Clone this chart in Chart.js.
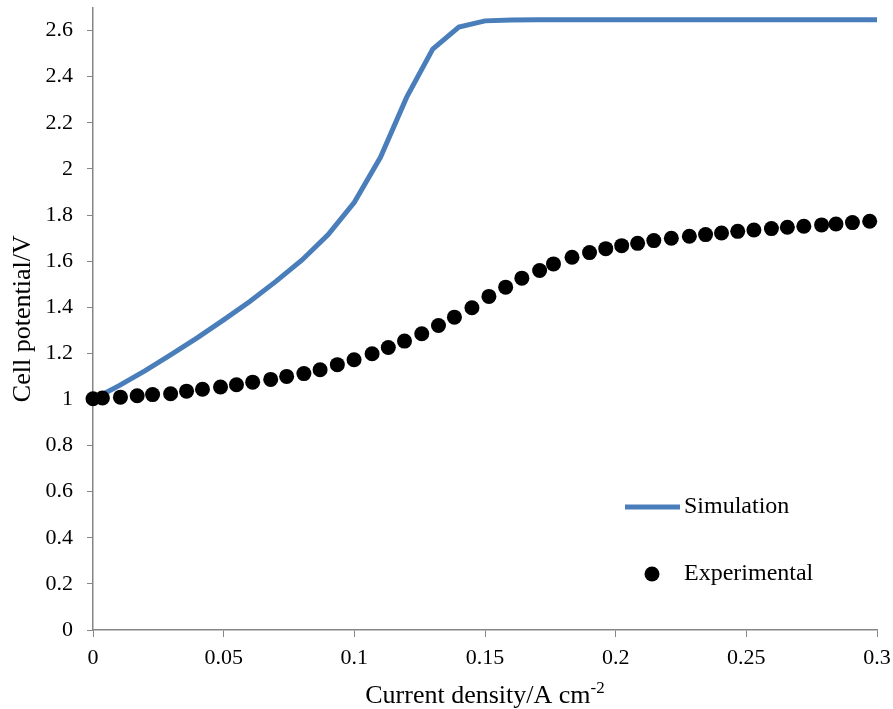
<!DOCTYPE html>
<html>
<head>
<meta charset="utf-8">
<script src="https://cdn.jsdelivr.net/npm/chart.js@4/dist/chart.umd.min.js"></script>
<style>
  html, body { margin: 0; padding: 0; background: #fff; }
  #wrap { width: 893px; height: 709px; }
</style>
</head>
<body>
<div id="wrap"><canvas id="grafico" width="893" height="709"></canvas></div>
<script>
// ---------- dados ----------
const simX = [0, 0.01, 0.02, 0.03, 0.04, 0.05, 0.06, 0.07, 0.08, 0.09, 0.1, 0.11, 0.12, 0.13, 0.14, 0.15, 0.16, 0.17, 0.18, 0.19, 0.2, 0.21, 0.22, 0.23, 0.24, 0.25, 0.26, 0.27, 0.28, 0.29, 0.3];
const simY = [1.0, 1.06, 1.125, 1.195, 1.268, 1.345, 1.425, 1.512, 1.605, 1.715, 1.855, 2.05, 2.31, 2.52, 2.615, 2.642, 2.646, 2.647, 2.647, 2.647, 2.647, 2.647, 2.647, 2.647, 2.647, 2.647, 2.647, 2.647, 2.647, 2.647, 2.647];

const expX = [0, 0.0036, 0.0105, 0.0169, 0.0228, 0.0297, 0.0358, 0.0419, 0.0488, 0.0549, 0.0611, 0.068, 0.0741, 0.0807, 0.0869, 0.0935, 0.0999, 0.1068, 0.113, 0.1192, 0.1258, 0.1322, 0.1383, 0.145, 0.1515, 0.1579, 0.1641, 0.1709, 0.1762, 0.1833, 0.19, 0.1962, 0.2023, 0.2084, 0.2146, 0.2213, 0.2282, 0.2344, 0.2405, 0.2467, 0.2529, 0.2596, 0.2657, 0.272, 0.2788, 0.2843, 0.2906, 0.2972];
const expY = [1.003, 1.006, 1.01, 1.016, 1.021, 1.025, 1.036, 1.044, 1.054, 1.064, 1.075, 1.087, 1.1, 1.112, 1.129, 1.151, 1.172, 1.198, 1.225, 1.253, 1.285, 1.321, 1.357, 1.398, 1.447, 1.487, 1.526, 1.559, 1.588, 1.617, 1.637, 1.654, 1.667, 1.677, 1.689, 1.699, 1.708, 1.715, 1.722, 1.729, 1.735, 1.741, 1.747, 1.751, 1.757, 1.761, 1.767, 1.773];

const xTicks = [0, 0.05, 0.1, 0.15, 0.2, 0.25, 0.3];
const yTicks = [0, 0.2, 0.4, 0.6, 0.8, 1, 1.2, 1.4, 1.6, 1.8, 2, 2.2, 2.4, 2.6];

const serie1 = "Simulation";
const serie2 = "Experimental";
const tituloX = "Current density/A cm";
const tituloXSup = "-2";
const tituloY = "Cell potential/V";

const fonte = "'Liberation Serif', 'Times New Roman', serif";
const azul = "#4a7ebb";
const cinza = "#868686";

// legenda e titulo do eixo x desenhados a mao (precisa do sobrescrito)
const extras = {
  id: "extras",
  afterDraw(chart) {
    const ctx = chart.ctx;
    const area = chart.chartArea;
    ctx.save();
    ctx.fillStyle = "#000";
    ctx.textBaseline = "alphabetic";

    // titulo do eixo x
    ctx.font = "26px " + fonte;
    const w1 = ctx.measureText(tituloX).width;
    ctx.font = "17px " + fonte;
    const w2 = ctx.measureText(tituloXSup).width;
    const x0 = (area.left + area.right) / 2 - (w1 + w2) / 2;
    ctx.font = "26px " + fonte;
    ctx.fillText(tituloX, x0, 703);
    ctx.font = "17px " + fonte;
    ctx.fillText(tituloXSup, x0 + w1, 693);

    // legenda
    ctx.strokeStyle = azul;
    ctx.lineWidth = 5;
    ctx.beginPath();
    ctx.moveTo(625, 507);
    ctx.lineTo(680, 507);
    ctx.stroke();
    ctx.beginPath();
    ctx.arc(652, 574, 7.5, 0, Math.PI * 2);
    ctx.fill();
    ctx.font = "24px " + fonte;
    ctx.textBaseline = "middle";
    ctx.fillText(serie1, 684, 507);
    ctx.fillText(serie2, 684, 574);
    ctx.restore();
  }
};

const ctxGrafico = document.getElementById("grafico").getContext("2d");
new Chart(ctxGrafico, {
  type: "scatter",
  data: {
    datasets: [
      {
        label: serie2,
        data: expX.map((x, i) => ({ x: x, y: expY[i] })),
        pointRadius: 7.5,
        pointBackgroundColor: "#000",
        pointBorderWidth: 0,
        showLine: false,
        clip: false,
        order: 0
      },
      {
        label: serie1,
        data: simX.map((x, i) => ({ x: x, y: simY[i] })),
        showLine: true,
        borderColor: azul,
        borderWidth: 5,
        pointRadius: 0,
        tension: 0,
        order: 1
      }
    ]
  },
  options: {
    responsive: false,
    animation: false,
    layout: { padding: { top: 7, right: 16, left: 0, bottom: 0 } },
    plugins: {
      legend: { display: false },
      tooltip: { enabled: false }
    },
    scales: {
      x: {
        type: "linear",
        min: 0,
        max: 0.3,
        afterBuildTicks: s => { s.ticks = xTicks.map(v => ({ value: v })); },
        afterFit: s => { s.height = 79; s.paddingLeft = 0; s.paddingRight = 0; },
        ticks: {
          callback: v => String(v),
          font: { family: fonte, size: 22 },
          color: "#000",
          padding: 8,
          maxRotation: 0,
          autoSkip: false
        },
        grid: { drawOnChartArea: false, drawTicks: true, tickLength: 7, color: cinza },
        border: { display: true, color: cinza, width: 1.5 }
      },
      y: {
        type: "linear",
        min: 0,
        max: 2.7,
        afterBuildTicks: s => { s.ticks = yTicks.map(v => ({ value: v })); },
        afterFit: s => { s.width = 93; s.paddingTop = 0; s.paddingBottom = 0; },
        title: {
          display: true,
          text: tituloY,
          font: { family: fonte, size: 26 },
          color: "#000",
          padding: { top: 8, bottom: 0 }
        },
        ticks: {
          callback: v => String(v),
          font: { family: fonte, size: 22 },
          color: "#000",
          padding: 14,
          autoSkip: false
        },
        grid: { drawOnChartArea: false, drawTicks: true, tickLength: 6, color: cinza },
        border: { display: true, color: cinza, width: 1.5 }
      }
    }
  },
  plugins: [extras]
});
</script>
</body>
</html>
